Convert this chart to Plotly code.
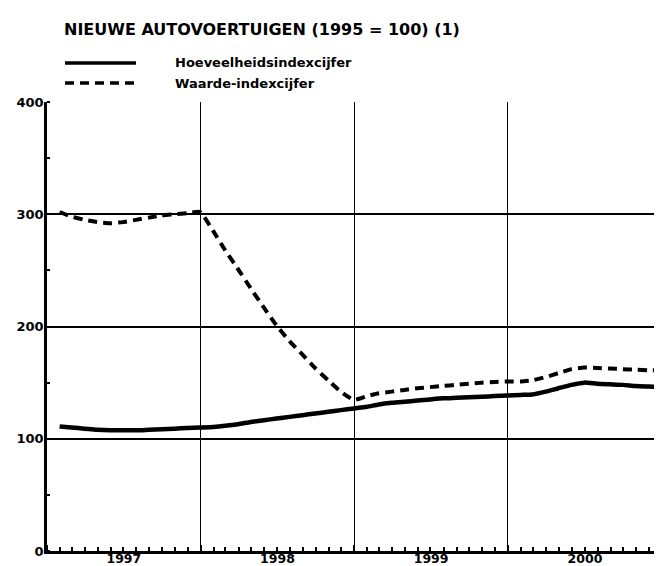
import plotly.graph_objects as go

# Monthly observations, Jan 1997 - Dec 2000 (plotted at month end)
years = [1997, 1998, 1999, 2000]
month_ends = ["01-31", "02-28", "03-31", "04-30", "05-31", "06-30",
              "07-31", "08-31", "09-30", "10-31", "11-30", "12-31"]
dates = [f"{y}-{m}" for y in years for m in month_ends]

hoeveelheid = [
    111, 110, 109, 108, 107.5, 107.5, 107.5, 108, 108.5, 109, 109.5, 110,      # 1997
    110.5, 111.5, 113, 115, 116.5, 118, 119.5, 121, 122.5, 124, 125.5, 127,    # 1998
    128.5, 130.5, 132, 133, 134, 135, 136, 136.5, 137, 137.5, 138, 138.5,      # 1999
    139, 139.5, 142, 145, 148, 150, 149, 148.5, 148, 147, 146.5, 146,          # 2000
]
waarde = [
    302, 298, 295, 293, 292, 293, 295, 297, 299, 300, 301, 302,                # 1997
    285, 268, 251, 234, 217, 201, 187, 175, 163, 152, 142, 134.5,              # 1998
    138, 140.5, 142, 143.5, 145, 146, 147, 148, 149, 150, 150.5, 151,          # 1999
    151, 152, 155, 158.5, 162, 163.5, 163, 162.5, 162, 161.5, 161, 161,        # 2000
]

series_names = ["Hoeveelheidsindexcijfer", "Waarde-indexcijfer"]
title_text = "NIEUWE AUTOVOERTUIGEN (1995 = 100) (1)"
y_ticks = [0, 100, 200, 300, 400]

FONT = "DejaVu Sans, Arial, sans-serif"

# The page body has an 8px margin; the figure is sized to fill the rest of the window.
OFF = 8
W, H = 662 - OFF, 566 - OFF
# plot area in window pixels: left 47, top 102, bottom 551, right 662
L, T = 47 - OFF, 102 - OFF
B = H - (551 - OFF)
R = 0
PW, PH = W - L - R, H - T - B


def px(x_screen):
    return (x_screen - OFF - L) / PW


def py(y_screen):
    return (H - B - (y_screen - OFF)) / PH


fig = go.Figure()
fig.add_trace(go.Scatter(x=dates, y=hoeveelheid, mode="lines", name=series_names[0],
                         line=dict(color="black", width=4.5, shape="spline", smoothing=0.6),
                         showlegend=False))
fig.add_trace(go.Scatter(x=dates, y=waarde, mode="lines", name=series_names[1],
                         line=dict(color="black", width=4, dash="9px,6px", shape="spline", smoothing=0.4),
                         showlegend=False))

# legend drawn by hand (sample lines + labels)
leg_rows = [63, 83]
leg_dash = ["solid", "9px,6px"]
for i in range(2):
    fig.add_shape(type="line", xref="paper", yref="paper", x0=px(65), x1=px(136),
                  y0=py(leg_rows[i]), y1=py(leg_rows[i]),
                  line=dict(color="black", width=3.5, dash=leg_dash[i]))
    fig.add_annotation(xref="paper", yref="paper", x=px(174), y=py(leg_rows[i]),
                       text=f"<b>{series_names[i]}</b>",
                       showarrow=False, xanchor="left", yanchor="middle", borderpad=0,
                       font=dict(family=FONT, size=13, color="black"))

fig.add_annotation(xref="paper", yref="paper", x=px(63), y=py(29), text=f"<b>{title_text}</b>",
                   showarrow=False, xanchor="left", yanchor="middle", borderpad=0,
                   font=dict(family=FONT, size=16, color="black"))

fig.update_layout(
    width=W, height=H,
    margin=dict(l=L, r=R, t=T, b=B, autoexpand=False),
    paper_bgcolor="white", plot_bgcolor="white",
    font=dict(family=FONT, color="black"),
)
fig.update_xaxes(
    type="date", range=["1997-01-01", "2001-01-01"], automargin=False,
    tick0="1997-01-01", dtick="M12", ticklabelmode="period", tickformat="%Y",
    ticks="inside", ticklen=6, tickwidth=2, tickcolor="black",
    showgrid=True, gridcolor="black", gridwidth=1.2,
    showline=True, linecolor="black", linewidth=3,
    tickfont=dict(family=FONT, size=12.5, color="black"),
    tickprefix="<b>", ticksuffix="</b>", ticklabelstandoff=-6,
    minor=dict(dtick="M1", ticks="inside", ticklen=4, tickwidth=2, tickcolor="black", showgrid=False),
    zeroline=False,
)
fig.update_yaxes(
    range=[0, 400], automargin=False, tickvals=y_ticks, ticktext=[f"<b>{v}</b>" for v in y_ticks],
    ticks="", showgrid=True, gridcolor="black", gridwidth=2,
    showline=True, linecolor="black", linewidth=2.5,
    tickfont=dict(family=FONT, size=13, color="black"), ticklabelstandoff=-2,
    minor=dict(dtick=50, ticks="inside", ticklen=3, tickwidth=1.5, tickcolor="black", showgrid=False),
    zeroline=False,
)

fig.write_html("out.html")
